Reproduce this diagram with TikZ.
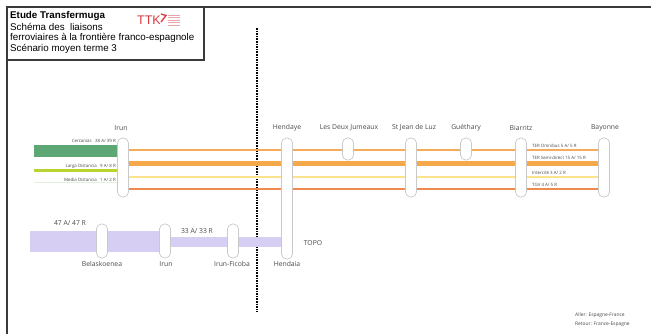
\documentclass[tikz,border=0pt]{standalone}
\usepackage{fontspec}
\setmainfont{Liberation Sans}
\newfontfamily\lblfont{Open Sans}
\definecolor{framegray}{HTML}{3A3A3A}
\definecolor{pillgray}{HTML}{C9C9C9}
\definecolor{omni}{HTML}{F4AB5A}
\definecolor{semi}{HTML}{F5A94A}
\definecolor{inter}{HTML}{FBE28E}
\definecolor{tgv}{HTML}{EF8A4E}
\definecolor{cerc}{HTML}{5DA774}
\definecolor{larga}{HTML}{B8D430}
\definecolor{media}{HTML}{E4F0D8}
\definecolor{lav}{HTML}{D6CEF3}
\definecolor{ttkred}{HTML}{D9383F}
\definecolor{txtgray}{HTML}{4A4A4A}
\begin{document}
\begin{tikzpicture}[x=1pt,y=-1pt,
  pill/.style={draw=pillgray,fill=white,line width=0.7pt,rounded corners=5pt,minimum width=11pt,inner sep=0pt},
  stlabel/.style={font=\lblfont\fontsize{6.8}{8}\selectfont,text=txtgray,inner sep=0pt},
  smalllabel/.style={font=\lblfont\fontsize{4.4}{5}\selectfont,text=txtgray,inner sep=0pt},
  titletext/.style={font=\fontsize{9.8}{11}\selectfont,text=black,inner sep=0pt,anchor=west}]
\useasboundingbox (0,0) rectangle (651,334);
\fill[white] (0,0) rectangle (651,334);
% outer frame
\draw[framegray,line width=1.2pt] (7,334) -- (7,7) -- (651,7);
% title box
\draw[framegray,line width=1.6pt,fill=white] (7,7) rectangle (204,60);
\node[titletext,font=\fontsize{9.8}{11}\selectfont\bfseries] (t1) at (10,16) {Etude Transfermuga};
\node[titletext] (t2) at (10,27) {Schéma des\ \ liaisons};
\node[titletext] (t3) at (10,38) {ferroviaires à la frontière franco-espagnole};
\node[titletext] (t4) at (10,49) {Scénario moyen terme 3};
% logo
\node[font=\fontsize{12.5}{12}\selectfont,text=ttkred,inner sep=0pt] (ttk) at (149,20) {TTK};
\draw[ttkred,line width=1.3pt] (161,14) -- (166,15.5) -- (161,22);
\foreach \yy in {15,17.5,20,22.5,25}{\draw[ttkred!45,line width=0.6pt] (168,\yy) -- (180,\yy);}
% dashed border line
\draw[black,line width=1.4pt,dash pattern=on 1.6pt off 1pt] (257,28) coordinate (dtop) -- (257,312) coordinate (dbot);
% top section pills (positions)
\coordinate (cIrun) at (123,167.5);
\coordinate (cBay) at (604,167.5);
% lines
\coordinate (y1) at (0,150);
\coordinate (y2) at (0,164);
\coordinate (y3) at (0,177);
\coordinate (y4) at (0,189);
\draw[omni,line width=2pt] (cIrun |- y1) -- (cBay |- y1);
\draw[semi,line width=5pt] (cIrun |- y2) -- (cBay |- y2);
\draw[inter,line width=1.6pt] (cIrun |- y3) -- (cBay |- y3);
\draw[tgv,line width=2pt] (cIrun |- y4) -- (cBay |- y4);
% bottom lavender bands
\fill[lav] (30,231) rectangle (162,252);
\fill[lav] (165,237) rectangle (285,247);
% left legend
\fill[cerc] (34,145) rectangle (118,157);
\draw[larga,line width=3pt] (34,171) -- (118,171);
\draw[media,line width=1pt] (34,183) -- (118,183);
\node[smalllabel,anchor=east] (lcerc) at (116,141) {Cercanias\ \ \ 38 A/ 39 R};
\node[smalllabel,anchor=east] (llarga) at (116,166) {Larga Distancia\ \ \ 9 A/ 8 R};
\node[smalllabel,anchor=east] (lmedia) at (116,180) {Media Distancia\ \ \ 1 A/ 2 R};
% pills top
\node[pill,minimum height=59pt] (irun) at (123,167.5) {};
\node[pill,minimum height=121pt] (hendaye) at (287,198.5) {};
\node[pill,minimum height=22pt] (ldj) at (348,149) {};
\node[pill,minimum height=59pt] (sjl) at (411,167.5) {};
\node[pill,minimum height=22pt] (gue) at (466,149) {};
\node[pill,minimum height=59pt] (bia) at (521,167.5) {};
\node[pill,minimum height=59pt] (bay) at (604,167.5) {};
% station labels top
\node[stlabel] (lirun) at (121,128) {Irun};
\node[stlabel] (lhen) at (287,128) {Hendaye};
\node[stlabel] (lldj) at (349,128) {Les Deux Jumeaux};
\node[stlabel] (lsjl) at (414,128) {St Jean de Luz};
\node[stlabel] (lgue) at (466,128) {Guéthary};
\node[stlabel] (lbia) at (521,128) {Biarritz};
\node[stlabel] (lbay) at (605,128) {Bayonne};
% service labels
\node[smalllabel,anchor=west] (s1) at (532,146) {TER Omnibus 5 A/ 5 R};
\node[smalllabel,anchor=west] (s2) at (532,158) {TER Semi-direct 15 A/ 15 R};
\node[smalllabel,anchor=west] (s3) at (532,173) {Intercité 3 A/ 2 R};
\node[smalllabel,anchor=west] (s4) at (532,185) {TGV 4 A/ 5 R};
% bottom pills
\node[pill,minimum height=34pt] (bel) at (102,241) {};
\node[pill,minimum height=34pt] (irun2) at (165,241) {};
\node[pill,minimum height=34pt] (fic) at (233,241) {};
% bottom labels
\node[stlabel] (l47) at (70,223) {47 A/ 47 R};
\node[stlabel] (l33) at (197,231) {33 A/ 33 R};
\node[stlabel] (ltopo) at (313,243) {TOPO};
\node[stlabel] (lbel) at (102,264) {Belaskoenea};
\node[stlabel] (lirun2) at (166,264) {Irun};
\node[stlabel] (lfic) at (232,264) {Irun-Ficoba};
\node[stlabel] (lhendaia) at (287,264) {Hendaia};
% legend bottom right
\node[smalllabel,font=\lblfont\fontsize{4.9}{6}\selectfont,anchor=west] (aller) at (575,315) {Aller: Espagne-France};
\node[smalllabel,font=\lblfont\fontsize{4.9}{6}\selectfont,anchor=west] (retour) at (575,324) {Retour: France-Espagne};
\end{tikzpicture}
\end{document}
